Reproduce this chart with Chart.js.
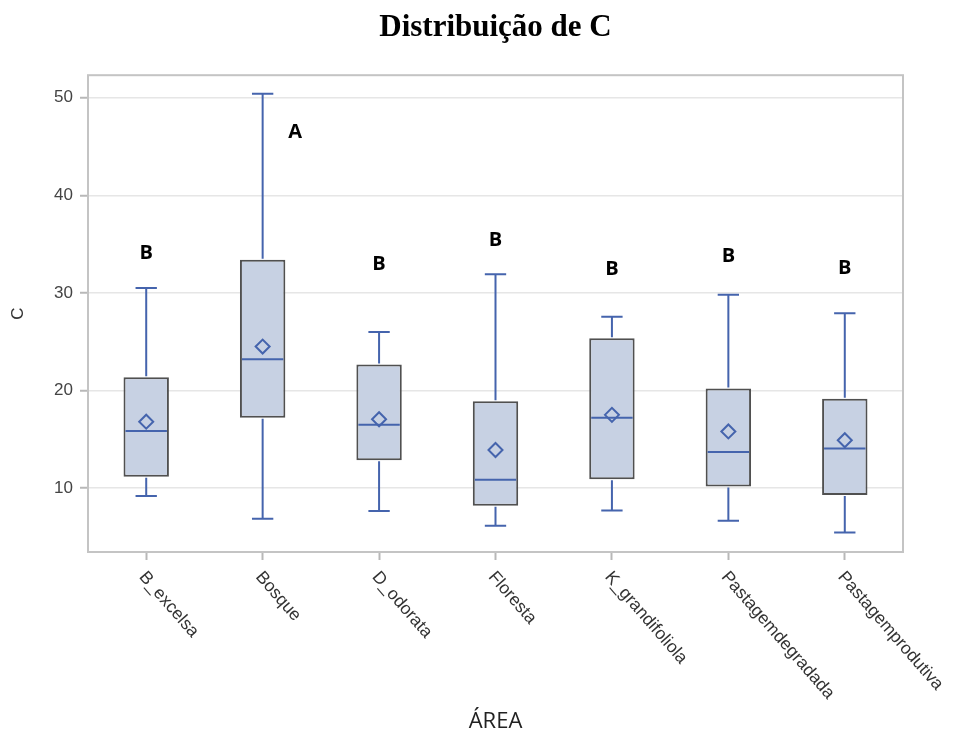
<!DOCTYPE html>
<html><head><meta charset="utf-8">
<script src="https://cdn.jsdelivr.net/npm/chart.js@4.4.1/dist/chart.umd.min.js"></script>
<style>html,body{margin:0;padding:0;background:#fff}#wrap{width:955px;height:747px;position:relative}</style>
</head><body><div id="wrap"><canvas id="c"></canvas></div>
<script>
// ---- data ----
const categories = ['B_excelsa','Bosque','D_odorata','Floresta','K_grandifoliola','Pastagemdegradada','Pastagemprodutiva'];
const whiskerLow  = [9.2, 6.85, 7.65, 6.15, 7.7, 6.65, 5.45];
const q1          = [11.15, 17.2, 12.85, 8.2, 10.9, 10.15, 9.3];
const median      = [15.85, 23.2, 16.5, 10.85, 17.2, 13.7, 14.05];
const q3          = [21.35, 33.4, 22.65, 18.9, 25.35, 20.2, 19.15];
const whiskerHigh = [30.5, 50.4, 26.0, 31.9, 27.55, 29.8, 27.9];
const means       = [16.8, 24.5, 17.05, 13.9, 17.5, 15.8, 14.9];
const groupLetters = ['B','A','B','B','B','B','B'];
const letterY      = [34.1, 46.5, 32.9, 35.4, 32.4, 33.7, 32.5];
const letterShift  = [0, 0.28, 0, 0, 0, 0, 0];
const yTicks = [10, 20, 30, 40, 50];
const yMin = 3.45, yMax = 52.3;

const BLUE = '#4564ad';
const BOX_FILL = '#c7d1e3';
const BOX_EDGE = '#505050';

const boxPlugin = {
  id: 'boxExtras',
  afterDatasetDraw(chart, args) {
    if (args.index !== 0) return;
    const ctx = chart.ctx, y = chart.scales.y;
    args.meta.data.forEach((bar, i) => {
      const x = bar.x, half = bar.width / 2, cap = bar.width * 0.235;
      const yLo = y.getPixelForValue(whiskerLow[i]);
      const yHi = y.getPixelForValue(whiskerHigh[i]);
      const yQ1 = y.getPixelForValue(q1[i]);
      const yQ3 = y.getPixelForValue(q3[i]);
      const yMed = y.getPixelForValue(median[i]);
      ctx.save();
      ctx.strokeStyle = BLUE; ctx.lineWidth = 2;
      ctx.beginPath();
      ctx.moveTo(x, yQ3 - 1); ctx.lineTo(x, yHi);
      ctx.moveTo(x - cap, yHi); ctx.lineTo(x + cap, yHi);
      ctx.moveTo(x, yQ1 + 1); ctx.lineTo(x, yLo);
      ctx.moveTo(x - cap, yLo); ctx.lineTo(x + cap, yLo);
      ctx.stroke();
      ctx.beginPath();
      ctx.moveTo(x - half + 2, yMed); ctx.lineTo(x + half - 2, yMed);
      ctx.stroke();
      ctx.restore();
    });
  },
  afterDraw(chart) {
    const ctx = chart.ctx, a = chart.chartArea, xs = chart.scales.x, y = chart.scales.y;
    ctx.save();
    ctx.strokeStyle = '#c4c4c4'; ctx.lineWidth = 2;
    ctx.strokeRect(a.left, a.top, a.right - a.left, a.bottom - a.top);
    // rotated category labels
    ctx.fillStyle = '#333';
    ctx.font = '17.5px "Liberation Sans", Arial, sans-serif';
    ctx.textAlign = 'left'; ctx.textBaseline = 'middle';
    categories.forEach((c, i) => {
      const px = xs.getPixelForValue(i);
      ctx.save();
      ctx.translate(px - 4, a.bottom + 22);
      ctx.rotate(49 * Math.PI / 180);
      ctx.fillText(c, 0, 0);
      ctx.restore();
    });
    // group letters
    ctx.fillStyle = '#000';
    ctx.font = 'bold 20px "Open Sans", sans-serif';
    ctx.textAlign = 'center';
    groupLetters.forEach((l, i) => {
      ctx.fillText(l, xs.getPixelForValue(i + letterShift[i]), y.getPixelForValue(letterY[i]));
    });
    ctx.restore();
  }
};

new Chart(document.getElementById('c'), {
  type: 'bar',
  data: {
    labels: categories,
    datasets: [
      {
        type: 'bar',
        data: categories.map((_, i) => [q1[i], q3[i]]),
        backgroundColor: BOX_FILL,
        borderColor: BOX_EDGE,
        borderWidth: 2,
        borderSkipped: false,
        barPercentage: 0.39,
        categoryPercentage: 1,
        order: 2
      },
      {
        type: 'line',
        data: means,
        showLine: false,
        pointStyle: 'rectRot',
        pointRadius: 7,
        pointBorderWidth: 2,
        pointBackgroundColor: 'rgba(0,0,0,0)',
        pointBorderColor: BLUE,
        order: 1
      }
    ]
  },
  options: {
    responsive: true,
    maintainAspectRatio: false,
    animation: false,
    layout: { padding: { left: 0, right: 52, top: 0, bottom: 0 } },
    plugins: {
      legend: { display: false },
      tooltip: { enabled: false },
      title: {
        display: true,
        text: 'Distribuição de C',
        fullSize: false,
        color: '#000',
        font: { family: '"Liberation Serif", "Times New Roman", serif', size: 31, weight: 'bold' },
        padding: { top: 9, bottom: 29 }
      }
    },
    scales: {
      x: {
        type: 'category',
        offset: true,
        grid: { display: true, drawOnChartArea: false, offset: false, tickLength: 8, tickColor: '#b8b8b8', tickWidth: 2 },
        border: { display: false },
        ticks: { display: false },
        title: {
          display: true, text: 'ÁREA', color: '#222',
          font: { family: '"Open Sans", sans-serif', size: 22 },
          padding: { top: 0, bottom: 12 }
        },
        afterFit(s) { s.height = 195; }
      },
      y: {
        min: yMin, max: yMax,
        afterBuildTicks(s) { s.ticks = yTicks.map(v => ({ value: v })); },
        grid: { color: '#e6e6e6', lineWidth: 1.5, tickLength: 8, tickColor: '#b8b8b8', tickWidth: 2 },
        border: { display: false },
        ticks: { color: '#444', padding: 7, font: { family: '"Liberation Sans", Arial, sans-serif', size: 17 } },
        title: {
          display: true, text: 'C', color: '#333',
          font: { family: '"Liberation Sans", Arial, sans-serif', size: 17 },
          padding: { top: 8, bottom: 0 }
        },
        afterFit(s) { s.width = 88; }
      }
    }
  },
  plugins: [boxPlugin]
});
</script>
</body></html>
